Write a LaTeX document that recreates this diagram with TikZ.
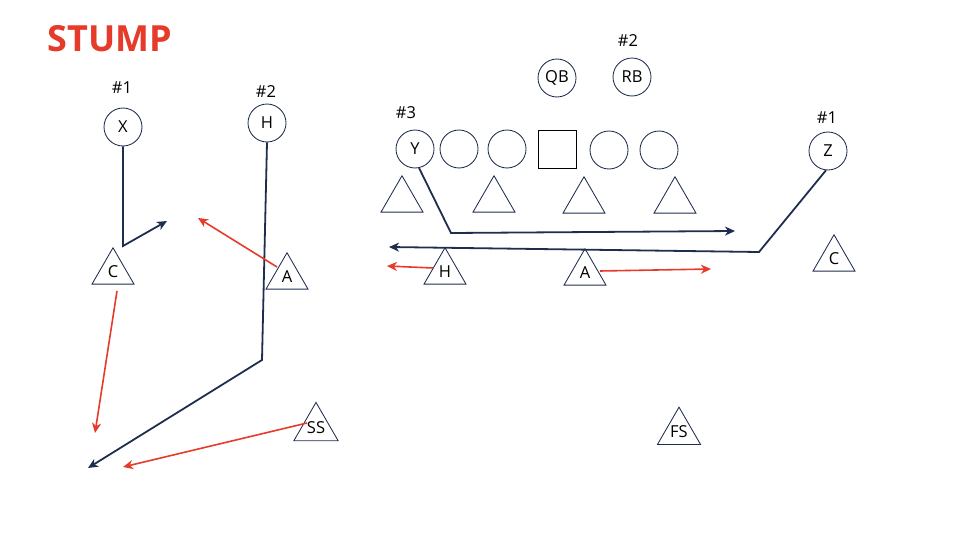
\documentclass[tikz,border=0pt]{standalone}
\usepackage{fontspec}
\setmainfont{Open Sans}
\usetikzlibrary{arrows.meta,shapes.geometric}
\definecolor{navy}{HTML}{1F2D4E}
\definecolor{stumpred}{HTML}{E63A2B}

\begin{document}
\begin{tikzpicture}[
  x=1pt,y=-1pt,
  font=\fontsize{16.5}{19}\selectfont,
  player/.style={circle,draw=navy,line width=.85pt,minimum size=38pt,inner sep=0pt},
  snapper/.style={rectangle,draw=black,line width=.9pt,minimum size=38pt,inner sep=0pt},
  defender/.style={regular polygon,regular polygon sides=3,draw=navy,line width=.85pt,
                   minimum size=48.5pt,inner sep=0pt},
  num/.style={inner sep=1pt},
  route/.style={draw=navy,line width=1.8pt,line join=miter,
                -{Stealth[length=10pt,width=9pt,inset=3pt]}},
  read/.style={draw=stumpred,line width=1.6pt,
               -{Stealth[length=10pt,width=9pt,inset=3pt]}}
]
\useasboundingbox (0,0) rectangle (972,538);

\node[font=\fontsize{36}{40}\selectfont\bfseries,text=stumpred] (title) at (110,39) {STUMP};

% left side: X and H
\node[num] (xnum) at (122,88) {\#1};
\node[player] (x) at (123,127) {X};
\node[num] (hnum) at (266,92) {\#2};
\node[player] (h) at (267,123) {H};

% backfield and line
\node[num] (rbnum) at (628,41) {\#2};
\node[player] (qb) at (557,78) {QB};
\node[player] (rb) at (632,77) {RB};
\node[num] (ynum) at (406,113) {\#3};
\node[player] (y) at (415,149) {Y};
\node[player] (lt) at (459,149) {};
\node[player] (lg) at (507,149) {};
\node[snapper] (c) at (557,149) {};
\node[player] (rg) at (609,150) {};
\node[player] (rt) at (659,150) {};
\node[num] (znum) at (827,118) {\#1};
\node[player] (z) at (828,151) {Z};

% defense
\node[defender] (d1) at (402,200) {};
\node[defender] (d2) at (494,200) {};
\node[defender] (d3) at (584,201) {};
\node[defender] (d4) at (675,201) {};
\node[defender] (cl) at (113,272) {C};
\node[defender] (al) at (287,277) {A};
\node[defender] (hm) at (445,272) {H};
\node[defender] (am) at (585,273) {A};
\node[defender] (cr) at (834,259) {C};
\node[defender] (ss) at (316,428) {SS};
\node[defender] (fs) at (679,432) {FS};

% route points
\coordinate (xbreak) at (123,246);
\coordinate (xend) at (167,221);
\coordinate (hbreak) at (262,360);
\coordinate (hend) at (88,468);
\coordinate (ybreak) at (451,233);
\coordinate (yend) at (735,231);
\coordinate (zbreak) at (759,252);
\coordinate (zend) at (389,247);

\draw[route] (x.south) -- (xbreak) -- (xend);
\draw[route] (h.south) -- (hbreak) -- (hend);
\draw[route] (y.-78) -- (ybreak) -- (yend);
\draw[route] (z.-96) -- (zbreak) -- (zend);

% defender reads
\coordinate (alstart) at (277,267);
\coordinate (alend) at (198,218);
\coordinate (clstart) at (117,291);
\coordinate (clend) at (95,433);
\coordinate (ssstart) at (307,423);
\coordinate (ssend) at (123,467);
\coordinate (hmstart) at (433,268);
\coordinate (hmend) at (387,266);
\coordinate (amstart) at (600,271);
\coordinate (amend) at (711,269);

\draw[read] (alstart) -- (alend);
\draw[read] (clstart) -- (clend);
\draw[read] (ssstart) -- (ssend);
\draw[read] (hmstart) -- (hmend);
\draw[read] (amstart) -- (amend);
\end{tikzpicture}
\end{document}
